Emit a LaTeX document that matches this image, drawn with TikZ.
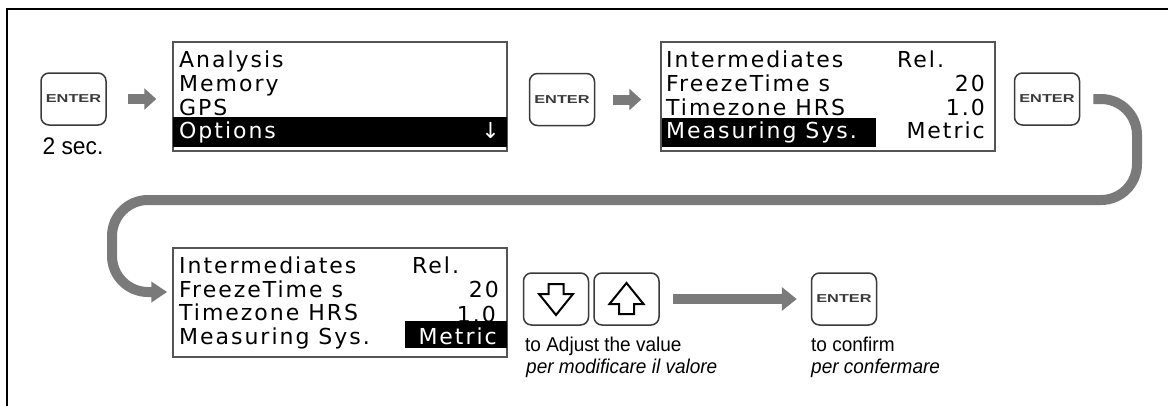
\documentclass[tikz,border=0pt]{standalone}
\usepackage{fontspec}
\setmainfont{Liberation Sans}
\newfontfamily\lcdfont[LetterSpace=9]{DejaVu Sans}
\newfontfamily\notefont[FakeStretch=0.95]{Liberation Sans}
\usetikzlibrary{arrows.meta}

\definecolor{arrowgray}{HTML}{7A7A7A}
\definecolor{keyline}{HTML}{3A3A3A}
\definecolor{lcdline}{HTML}{555555}

% wide, bold key caption
\newcommand{\keycap}[1]{\scalebox{1.42}[1]{\bfseries\fontsize{11.5}{11.5}\selectfont #1}}

\tikzset{
  keybox/.style={draw=keyline, line width=1.5pt, rounded corners=8pt,
    minimum width=65pt, minimum height=52pt, inner sep=0pt, fill=white,
    text=keyline},
  lcdbox/.style={draw=lcdline, line width=1.5pt, minimum width=334pt,
    minimum height=109pt, inner sep=0pt},
  lcdtext/.style={font=\lcdfont\fontsize{22}{24}\selectfont, inner sep=0pt,
    anchor=base west},
  lcdright/.style={lcdtext, anchor=base east},
  lcdbar/.style={fill=black},
  note/.style={font=\notefont\fontsize{20}{24}\selectfont, anchor=base west,
    inner sep=0pt},
  italnote/.style={note, font=\notefont\itshape\fontsize{20}{24}\selectfont},
  fatarrow/.style={draw=arrowgray, line width=10pt,
    -{Triangle[length=12pt,width=21pt]}},
  longarrow/.style={draw=arrowgray, line width=10pt,
    -{Triangle[length=15pt,width=23pt]}},
  loopline/.style={draw=arrowgray, line width=10pt, rounded corners=36pt,
    -{Triangle[length=16pt,width=20pt]}},
  keyglyph/.style={draw=black, line width=2pt, fill=white, line join=miter}
}

\begin{document}
\begin{tikzpicture}[x=1pt, y=-1pt]
\useasboundingbox (0,0) rectangle (1168,405);

% frame
\draw[line width=2pt] (7,412) -- (7,9) -- (1175,9);

% ---------- upper row ----------
\node[keybox] (k1) at (73.5,99) {\keycap{ENTER}};
\node[note, anchor=base, font=\notefont\fontsize{24}{28}\selectfont] (sec) at (73,154) {2 sec.};

\node[lcdbox] (m1) at (340,96.5) {};
\fill[lcdbar] (173,117) rectangle (507,147);
\node[lcdtext] (m1a) at (179,67) {Analysis};
\node[lcdtext] (m1b) at (179,91) {Memory};
\node[lcdtext] (m1c) at (179,115) {GPS};
\node[lcdtext, text=white] (m1d) at (179,138) {Options};
\node[lcdright, text=white] (m1e) at (500,138) {↓};

\node[keybox] (k2) at (562,99.5) {\keycap{ENTER}};

\node[lcdbox] (m2) at (828,96.5) {};
\fill[lcdbar] (662,118) rectangle (876,147);
\node[lcdtext] (m2a) at (666,67) {Intermediates};
\node[lcdtext] (m2b) at (666,91) {FreezeTime s};
\node[lcdtext] (m2c) at (666,115) {Timezone HRS};
\node[lcdtext, text=white] (m2d) at (666,138) {Measuring Sys.};
\node[lcdtext] (m2e) at (897,67) {Rel.};
\node[lcdright] (m2f) at (985,91) {20};
\node[lcdright] (m2g) at (985,115) {1.0};
\node[lcdright] (m2h) at (985,138) {Metric};

\node[keybox] (k3) at (1047,99) {\keycap{ENTER}};

\draw[fatarrow] ([xshift=21pt]k1.east) -- ([xshift=-16pt]k1.east -| m1.west);
\draw[fatarrow] ([xshift=18pt]k2.east) -- ([xshift=-19pt]k2.east -| m2.west);

% ---------- lower row ----------
\node[lcdbox] (m3) at (340,302.5) {};
\node[lcdtext] (m3a) at (179,273) {Intermediates};
\node[lcdtext] (m3b) at (179,297) {FreezeTime s};
\node[lcdtext] (m3c) at (179,320) {Timezone HRS};
\node[lcdtext] (m3d) at (179,344) {Measuring Sys.};
\node[lcdtext] (m3e) at (412,273) {Rel.};
\node[lcdright] (m3f) at (499,297) {20};
\node[lcdright] (m3g) at (496,322) {1.0};
\fill[lcdbar] (405,321) rectangle (507,348);
\node[lcdright, text=white] (m3h) at (497,344) {Metric};

% loop from the third key down to the lower display
\coordinate (rturn) at (1137,200);
\coordinate (lturn) at (112,292);
\draw[loopline] ([xshift=13pt]k3.east) -| (rturn) -| (lturn)
  -- ([xshift=-5pt]lturn -| m3.west);

% arrow keys
\node[keybox] (dk) at (556,299) {};
\node[keybox] (uk) at (626.5,299) {};
\begin{scope}[shift={(dk.center)}]
  \draw[keyglyph] (-7.5,-15) -- (7.5,-15) -- (7.5,-5) -- (17,-5) -- (0,16)
    -- (-17,-5) -- (-7.5,-5) -- cycle;
\end{scope}
\begin{scope}[shift={(uk.center)}]
  \draw[keyglyph] (-7.5,15) -- (7.5,15) -- (7.5,5) -- (17,5) -- (0,-16)
    -- (-17,5) -- (-7.5,5) -- cycle;
\end{scope}

\node[keybox] (k4) at (844,299) {\keycap{ENTER}};
\draw[longarrow] ([xshift=13pt]uk.east) -- ([xshift=-14pt]k4.west);

\node[note] (t1) at (525,351) {to Adjust the value};
\node[italnote] (t2) at (526,373) {per modificare il valore};
\node[note] (t3) at (811,351) {to confirm};
\node[italnote] (t4) at (811,373) {per confermare};
\end{tikzpicture}
\end{document}
